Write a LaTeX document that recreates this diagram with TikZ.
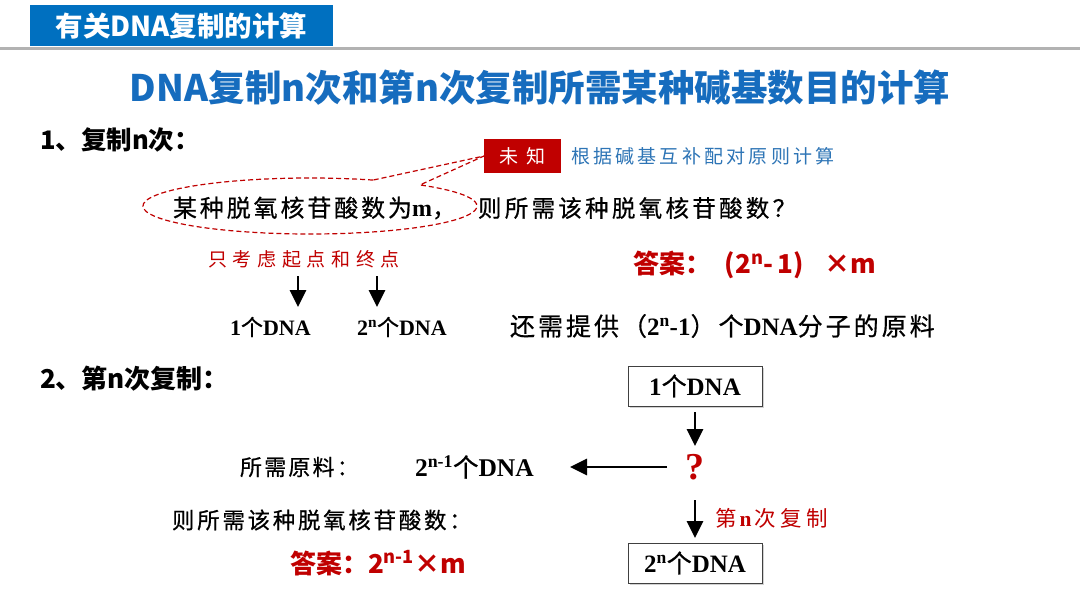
\documentclass[tikz,border=0pt]{standalone}
\usepackage{fontspec}
\setmainfont{Liberation Serif}
\newfontfamily\cjk{Noto Sans CJK SC}[LetterSpace=12, FakeBold=0.6]
\newfontfamily\cjkl{Noto Sans CJK SC}[LetterSpace=12]
\newfontfamily\hei{Noto Sans CJK SC}
\usetikzlibrary{arrows.meta,shadows,calc}
\definecolor{hblue}{RGB}{0,112,192}
\definecolor{tblue}{RGB}{22,108,190}
\definecolor{nblue}{RGB}{46,117,182}
\definecolor{dred}{RGB}{192,0,0}
\newcommand{\fs}[1]{\fontsize{#1}{#1}\selectfont}
\newcommand{\sps}[1]{\textsuperscript{#1}}
\newcommand{\lb}[1]{{\rmfamily\bfseries #1}}
\begin{document}
\begin{tikzpicture}[x=1pt,y=1pt,
  every node/.style={inner sep=0pt, outer sep=0pt},
  arr/.style={line width=2.8pt, -{Triangle[width=16pt,length=17pt]}},
  dnabox/.style={draw=black!75, line width=1pt, fill=white, minimum width=134pt, minimum height=40pt,
    drop shadow={shadow xshift=2pt, shadow yshift=-2pt, opacity=0.35}},
  callout/.style={draw=dred, dash pattern=on 5pt off 3pt, line width=1.2pt}]
\useasboundingbox (0,0) rectangle (1080,-608);
\fill[white] (0,0) rectangle (1080,-608);
% header
\draw[gray!60, line width=3pt] (0,-48.5) -- (1080,-48.5);
\node[fill=hblue, minimum width=303pt, minimum height=41pt, text=white, font=\hei\bfseries\fs{27.5}] (hdr) at (181.5,-25.5) {有关DNA复制的计算};
% title
\node[text=tblue, font=\hei\bfseries\fs{36.5}] (title) at (540,-88) {DNA复制n次和第n次复制所需某种碱基数目的计算};
% section 1
\node[anchor=west, font=\hei\bfseries\fs{25.5}] (s1) at (40,-140) {1、复制n次：};
\node[fill=dred, minimum width=77pt, minimum height=34pt, text=white, font=\cjkl\addfontfeatures{LetterSpace=40}\fs{19}] (unk) at (522.5,-156) {未知};
\node[anchor=west, text=nblue, font=\cjkl\addfontfeatures{LetterSpace=17}\fs{19}] (rule) at (571,-156) {根据碱基互补配对原则计算};
\draw[callout] ($(310,-206)+(67.8:167 and 28)$) arc[start angle=67.8, end angle=408.8, x radius=167, y radius=28] -- (unk.west) -- cycle;
\node[anchor=west, font=\cjk\fs{24}] (given) at (173,-208) {某种脱氧核苷酸数为\lb{m}，};
\node[anchor=west, font=\cjk\addfontfeatures{LetterSpace=14}\fs{23.5}] (ask) at (478,-208) {则所需该种脱氧核苷酸数？};
\node[anchor=west, text=dred, font=\cjkl\addfontfeatures{LetterSpace=30}\fs{19}] (hint) at (208,-259) {只考虑起点和终点};
\coordinate (a1s) at (298,-276);
\coordinate (a1e) at (298,-307);
\coordinate (a2s) at (377,-276);
\coordinate (a2e) at (377,-307);
\draw[arr] (a1s) -- (a1e);
\draw[arr] (a2s) -- (a2e);
\node[anchor=west, font=\fs{22}] (d1) at (230,-327) {\lb{1}{\cjk 个}\lb{DNA}};
\node[anchor=west, font=\fs{22}] (dn) at (357,-327) {\lb{2\sps{n}}{\cjk 个}\lb{DNA}};
\node[anchor=west, text=dred, font=\hei\bfseries\fs{26}] (ans1) at (633,-265) {答案：\hspace{14pt}(2\sps{n}-\,1)\hspace{20pt}×m};
\node[anchor=west, font=\cjk\fs{25}] (supply) at (510,-326) {还需提供（\lb{2\sps{n}-1}）个\lb{DNA}分子的原料};
% section 2
\node[anchor=west, font=\hei\bfseries\fs{26}] (s2) at (40,-379) {2、第n次复制：};
\node[dnabox, font=\fs{25}] (b1) at (695,-386) {\lb{1}{\cjk 个}\lb{DNA}};
\node[font=\rmfamily\bfseries\fs{38}, text=dred, minimum width=56pt, minimum height=40pt] (q) at (695,-467) {?};
\node[dnabox, font=\fs{25}] (b2) at (695,-563) {\lb{2\sps{n}}{\cjk 个}\lb{DNA}};
\draw[arr, shorten <=6pt, shorten >=1pt] (b1.south) -- (q.north);
\draw[arr, shorten <=13pt, shorten >=5pt] (q.south) -- (b2.north);
\node[anchor=west, text=dred, font=\cjkl\addfontfeatures{LetterSpace=22}\fs{21.5}] (nth) at (715,-518) {第\hspace{3pt}\lb{n}\hspace{3pt}次复制};
\coordinate (lt) at (570,-467);
\draw[arr] (q.west) -- (lt);
\node[anchor=west, font=\cjk\addfontfeatures{LetterSpace=10}\fs{22}] (mat) at (240,-467) {所需原料：};
\node[anchor=west, font=\fs{25.5}] (need) at (415,-467) {\lb{2\sps{n-1}}{\cjk 个}\lb{DNA}};
\node[anchor=west, font=\cjk\fs{22.5}] (ask2) at (172,-520) {则所需该种脱氧核苷酸数：};
\node[anchor=west, text=dred, font=\hei\bfseries\fs{26}] (ans2) at (290,-563) {答案：2\sps{n-1}×m};
\end{tikzpicture}
\end{document}
